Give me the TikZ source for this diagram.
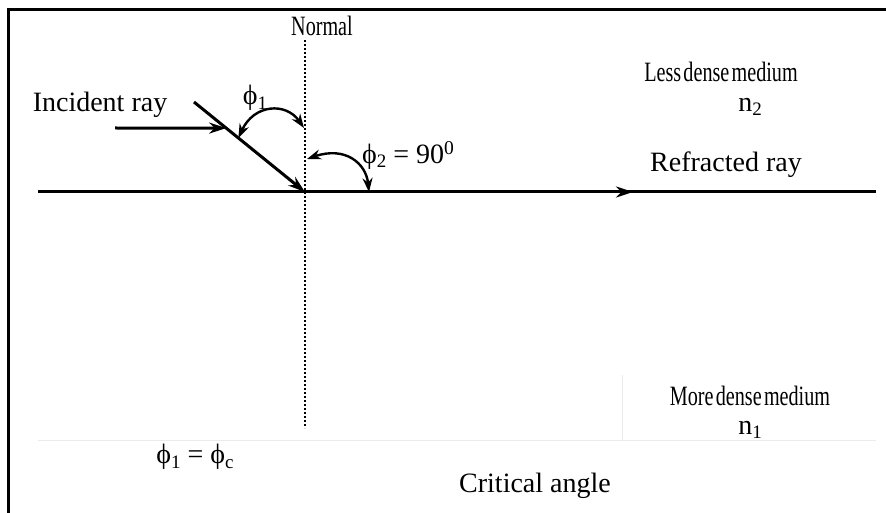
\documentclass[tikz,border=0pt]{standalone}
\usepackage{fontspec}
\setmainfont{Liberation Serif}
\newfontfamily\narrowserif[FakeStretch=0.72,WordSpace=0.45]{Liberation Serif}
\usepackage{tikz}
\usetikzlibrary{arrows.meta,calc}
\newcommand{\lbl}{\fontsize{28}{32}\selectfont}
\newcommand{\lowsub}[1]{\raisebox{-0.35ex}{\fontsize{19}{21}\selectfont #1}}

\begin{document}
\begin{tikzpicture}[
  x=1pt,y=-1pt,
  every node/.style={font=\lbl,inner sep=0pt},
  narrow/.style={font=\narrowserif\fontsize{28}{31}\selectfont},
  ray/.style={line width=3pt},
  arr/.style={-{Stealth[length=17pt,width=11pt]},line width=3pt},
  dbl/.style={{Stealth[length=14pt,width=10pt]}-{Stealth[length=14pt,width=10pt]},line width=2.4pt},
  normline/.style={line width=2.2pt,dash pattern=on 2pt off 2pt},
  faint/.style={line width=0.8pt,black!8}
]
\useasboundingbox (0,0) rectangle (886,513);
% frame
\draw[line width=3pt] (886,10) -- (8,10) -- (8,513);

% interface and normal
\coordinate (O) at (305,192);
\coordinate (west) at (38,192);
\coordinate (east) at (876,192);
\coordinate (refr) at (633,192);
\coordinate (ntop) at (305,40);
\coordinate (nbot) at (305,428);
\draw[faint] (38,440) -- (876,440);
\draw[faint] (622,375) -- (622,440);
\draw[ray] (west) -- (east);
\draw[arr] (O) -- (refr);
\draw[normline] (ntop) -- (nbot);

% incident ray
\coordinate (inc) at (194,102);
\coordinate (hit) at ($(inc)!0.29!(O)$);
\coordinate (ptr) at (115,128);
\draw[arr] (inc) -- (O);
\draw[arr] (ptr) -- (hit);

% angles
\coordinate (a1) at (304,128);
\coordinate (a2) at ($(inc)!0.40!(O)$);
\coordinate (b1) at (307,159);
\coordinate (b2) at (369,192);
\draw[dbl] (a1) .. controls (286,102) and (254,104) .. (a2);
\draw[dbl] (b1) .. controls (345,146) and (366,163) .. (b2);

% labels
\node[narrow] (normal) at (322,26) {Normal};
\node (incident) at (100,105) {Incident ray};
\node (phione) at (255,98) {ϕ\lowsub{1}};
\node[anchor=west] (phitwo) at (362,155) {ϕ\lowsub{2} = 90\textsuperscript{0}};
\node[narrow] (less) at (721,72) {Less dense medium};
\node (ntwo) at (750,107) {n\lowsub{2}};
\node (refracted) at (726,165) {Refracted ray};
\node[narrow] (more) at (750,396) {More dense medium};
\node (none) at (750,430) {n\lowsub{1}};
\node (crit) at (195,457) {ϕ\lowsub{1} = ϕ\lowsub{c}};
\node (critical) at (535,486) {Critical angle};
\end{tikzpicture}
\end{document}
